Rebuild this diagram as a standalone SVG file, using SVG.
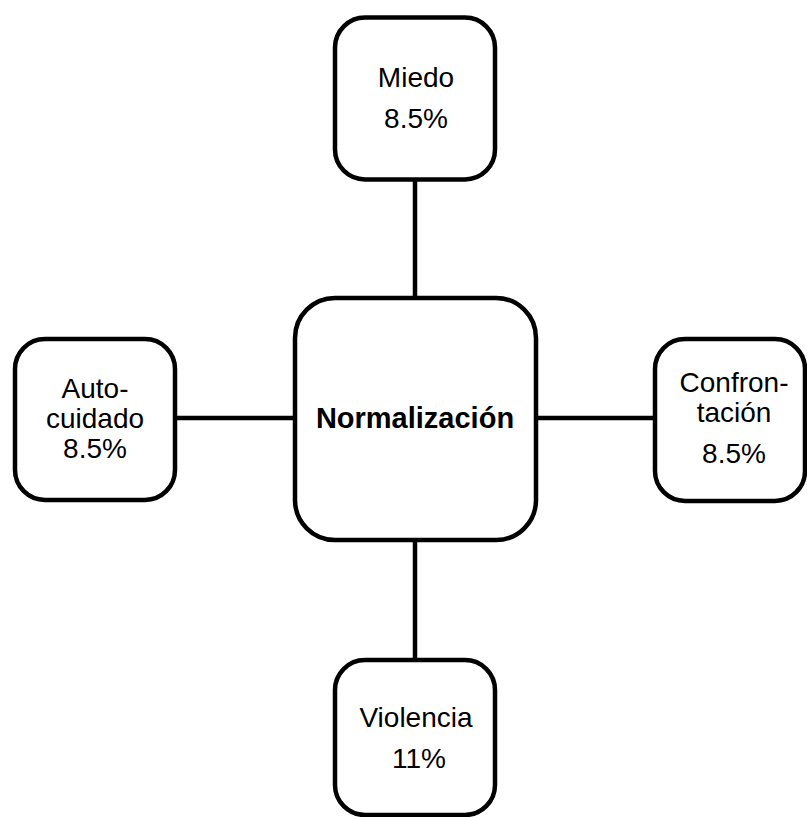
<svg xmlns="http://www.w3.org/2000/svg" width="807" height="817" viewBox="0 0 807 817">
  <style>
    .box { fill: #ffffff; stroke: #000000; stroke-width: 4.5; }
    .link { stroke: #000000; stroke-width: 4.5; fill: none; }
    .label { font-family: "Liberation Sans", Arial, sans-serif; font-size: 28px; fill: #000000; text-anchor: middle; }
    .title { font-family: "Liberation Sans", Arial, sans-serif; font-size: 29px; font-weight: bold; fill: #000000; text-anchor: middle; }
  </style>
  <rect width="807" height="817" fill="#ffffff"/>

  <!-- connectors from the central node to each outer node -->
  <g id="connectors">
    <line class="link" x1="415" y1="180" x2="415" y2="298"/>
    <line class="link" x1="415" y1="540" x2="415" y2="660"/>
    <line class="link" x1="175" y1="418" x2="295" y2="418"/>
    <line class="link" x1="536" y1="418" x2="655" y2="418"/>
  </g>

  <g id="node-normalizacion">
    <rect class="box" x="295" y="298" width="241" height="242" rx="40" ry="40"/>
    <text class="title" x="415" y="428">Normalización</text>
  </g>

  <g id="node-miedo">
    <rect class="box" x="335" y="17.5" width="160" height="162" rx="30" ry="30"/>
    <text class="label" x="416" y="87">Miedo</text>
    <text class="label" x="416" y="128">8.5%</text>
  </g>

  <g id="node-autocuidado">
    <rect class="box" x="15" y="339" width="160" height="161" rx="30" ry="30"/>
    <text class="label" x="95" y="398">Auto-</text>
    <text class="label" x="95" y="428">cuidado</text>
    <text class="label" x="95" y="458">8.5%</text>
  </g>

  <g id="node-confrontacion">
    <rect class="box" x="655" y="339" width="150" height="162" rx="30" ry="30"/>
    <text class="label" x="734" y="392">Confron-</text>
    <text class="label" x="734" y="422">tación</text>
    <text class="label" x="734" y="463">8.5%</text>
  </g>

  <g id="node-violencia">
    <rect class="box" x="335" y="660" width="160" height="155" rx="30" ry="30"/>
    <text class="label" x="416" y="727">Violencia</text>
    <text class="label" x="419" y="768">11%</text>
  </g>
</svg>
